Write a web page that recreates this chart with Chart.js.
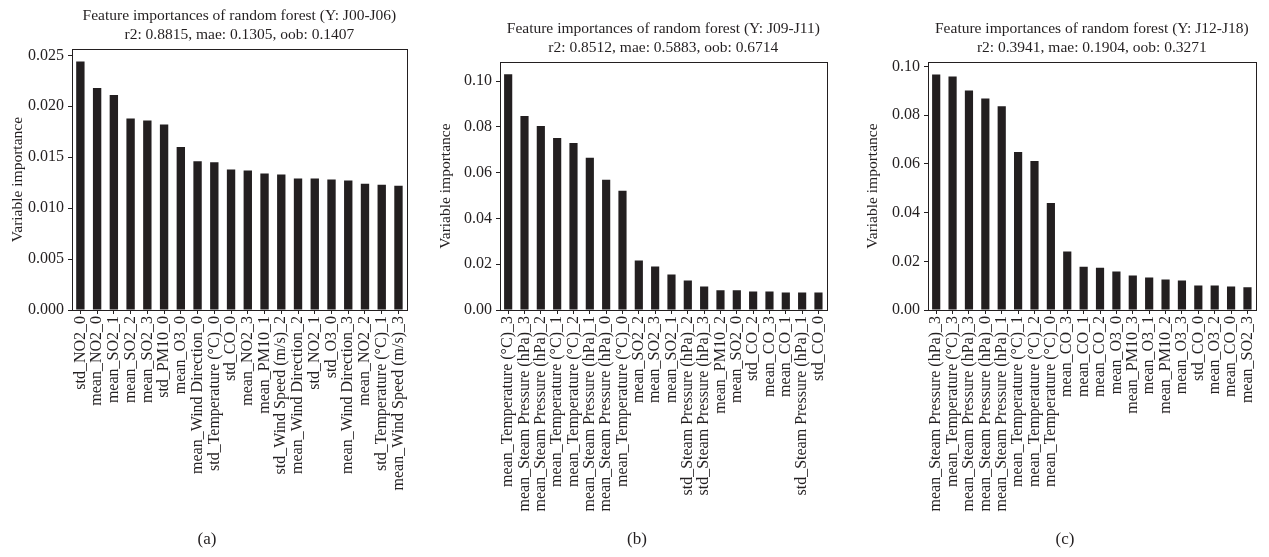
<!DOCTYPE html>
<html>
<head>
<meta charset="utf-8">
<script src="https://cdn.jsdelivr.net/npm/chart.js@4/dist/chart.umd.min.js"></script>
<style>
  body { margin: 0; background: #fff; }
  #wrap { position: relative; width: 1269px; height: 557px; }
  canvas { position: absolute; top: 0; }
  .cap { position: absolute; top: 529px; width: 60px; margin-left: -30px; text-align: center;
         font-family: "Liberation Serif", serif; font-size: 17px; color: #231f20; }
</style>
</head>
<body>
<div id="wrap">
  <canvas id="chartA" width="420" height="557" style="left:0px"></canvas>
  <canvas id="chartB" width="420" height="557" style="left:420px"></canvas>
  <canvas id="chartC" width="429" height="557" style="left:840px"></canvas>
  <div class="cap" style="left:207px">(a)</div>
  <div class="cap" style="left:637px">(b)</div>
  <div class="cap" style="left:1065px">(c)</div>
</div>
<script>
// panel (a): Y J00-J06
const titleA = ["Feature importances of random forest (Y: J00-J06)", "r2: 0.8815, mae: 0.1305, oob: 0.1407"];
const labelsA = ["std_NO2_0", "mean_NO2_0", "mean_SO2_1", "mean_SO2_2", "mean_SO2_3", "std_PM10_0",
    "mean_O3_0", "mean_Wind Direction_0", "std_Temperature (°C)_0", "std_CO_0", "mean_NO2_3",
    "mean_PM10_1", "std_Wind Speed (m/s)_2", "mean_Wind Direction_2", "std_NO2_1", "std_O3_0",
    "mean_Wind Direction_3", "mean_NO2_2", "std_Temperature (°C)_1", "mean_Wind Speed (m/s)_3"];
const valuesA = [0.0244, 0.0218, 0.0211, 0.0188, 0.0186, 0.0182, 0.0160, 0.0146, 0.0145, 0.0138,
    0.0137, 0.0134, 0.0133, 0.0129, 0.0129, 0.0128, 0.0127, 0.0124, 0.0123, 0.0122];

// panel (b): Y J09-J11
const titleB = ["Feature importances of random forest (Y: J09-J11)", "r2: 0.8512, mae: 0.5883, oob: 0.6714"];
const labelsB = ["mean_Temperature (°C)_3", "mean_Steam Pressure (hPa)_3", "mean_Steam Pressure (hPa)_2",
    "mean_Temperature (°C)_1", "mean_Temperature (°C)_2", "mean_Steam Pressure (hPa)_1",
    "mean_Steam Pressure (hPa)_0", "mean_Temperature (°C)_0", "mean_SO2_2", "mean_SO2_3", "mean_SO2_1",
    "std_Steam Pressure (hPa)_2", "std_Steam Pressure (hPa)_3", "mean_PM10_2", "mean_SO2_0", "std_CO_2",
    "mean_CO_3", "mean_CO_1", "std_Steam Pressure (hPa)_1", "std_CO_0"];
const valuesB = [0.1030, 0.0848, 0.0804, 0.0752, 0.0730, 0.0665, 0.0569, 0.0521, 0.0216, 0.0190,
    0.0155, 0.0129, 0.0103, 0.0086, 0.0086, 0.0081, 0.0081, 0.0077, 0.0077, 0.0077];

// panel (c): Y J12-J18
const titleC = ["Feature importances of random forest (Y: J12-J18)", "r2: 0.3941, mae: 0.1904, oob: 0.3271"];
const labelsC = ["mean_Steam Pressure (hPa)_3", "mean_Temperature (°C)_3", "mean_Steam Pressure (hPa)_3",
    "mean_Steam Pressure (hPa)_0", "mean_Steam Pressure (hPa)_1", "mean_Temperature (°C)_1",
    "mean_Temperature (°C)_2", "mean_Temperature (°C)_0", "mean_CO_3", "mean_CO_1", "mean_CO_2",
    "mean_O3_0", "mean_PM10_3", "mean_O3_1", "mean_PM10_2", "mean_O3_3", "std_CO_0", "mean_O3_2",
    "mean_CO_0", "mean_SO2_3"];
const valuesC = [0.0967, 0.0959, 0.0902, 0.0869, 0.0837, 0.0649, 0.0612, 0.0440, 0.0240, 0.0178,
    0.0174, 0.0158, 0.0142, 0.0134, 0.0125, 0.0121, 0.0101, 0.0101, 0.0097, 0.0093];

const ink = "#231f20";
const serif = "'Liberation Serif', 'Times New Roman', serif";

// frame around the plot area (matplotlib style box)
const framePlugin = {
    id: "frame",
    afterDraw(chart) {
        const a = chart.chartArea, ctx = chart.ctx;
        ctx.save();
        ctx.strokeStyle = ink;
        ctx.lineWidth = 1;
        ctx.strokeRect(Math.round(a.left) + 0.5, Math.round(a.top) + 0.5,
            Math.round(a.right - a.left), Math.round(a.bottom - a.top));
        ctx.restore();
    }
};

function makeChart(id, title, labels, values, opt) {
    return new Chart(document.getElementById(id), {
        type: "bar",
        data: {
            labels,
            datasets: [{
                data: values,
                backgroundColor: ink,
                categoryPercentage: 1,
                barPercentage: 0.5,
            }],
        },
        options: {
            responsive: false,
            animation: false,
            devicePixelRatio: 1,
            layout: { padding: { left: 0, right: opt.padRight, top: 0, bottom: 0 } },
            plugins: {
                legend: { display: false },
                tooltip: { enabled: false },
                title: {
                    display: true,
                    fullSize: false, // centre over the plot area, not the canvas
                    text: title,
                    color: ink,
                    font: { family: serif, size: 15.5, weight: "normal", lineHeight: 1.2 },
                    padding: { top: opt.titleTop, bottom: 5 },
                },
            },
            scales: {
                x: {
                    afterFit(scale) { scale.height = 247; },
                    grid: { display: true, drawOnChartArea: false, offset: false, tickLength: 4, color: ink },
                    border: { display: true, color: ink },
                    ticks: {
                        autoSkip: false, minRotation: 90, maxRotation: 90, padding: 2,
                        color: ink, font: { family: serif, size: 16 },
                    },
                },
                y: {
                    min: 0,
                    max: opt.yMax,
                    afterFit(scale) { scale.width = opt.yWidth; },
                    grid: { display: true, drawOnChartArea: false, tickLength: 4, color: ink },
                    border: { display: true, color: ink },
                    title: {
                        display: true, text: "Variable importance", color: ink,
                        font: { family: serif, size: 15.5 }, padding: { top: opt.yTitlePad, bottom: 0 },
                    },
                    ticks: {
                        stepSize: opt.step, includeBounds: false, padding: 4, color: ink,
                        font: { family: serif, size: 16 },
                        callback: v => Number(v).toFixed(opt.digits),
                    },
                },
            },
        },
        plugins: [framePlugin],
    });
}

makeChart("chartA", titleA, labelsA, valuesA,
    { padRight: 11, titleTop: 7, yMax: 0.0256, yWidth: 72, step: 0.005, digits: 3, yTitlePad: 9 });
makeChart("chartB", titleB, labelsB, valuesB,
    { padRight: 3, titleTop: 20, yMax: 0.1083, yWidth: 80, step: 0.02, digits: 2, yTitlePad: 17 });
makeChart("chartC", titleC, labelsC, valuesC,
    { padRight: 3, titleTop: 20, yMax: 0.1018, yWidth: 88, step: 0.02, digits: 2, yTitlePad: 24 });
</script>
</body>
</html>
